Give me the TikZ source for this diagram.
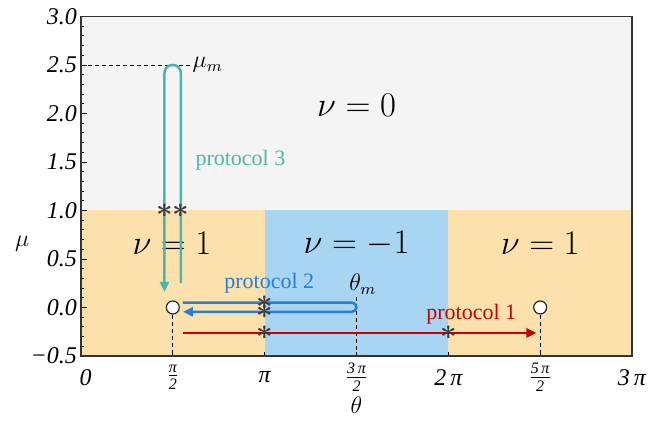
\documentclass[tikz,border=0pt]{standalone}
\usepackage{amsmath}
\usepackage{fontspec}
\setmainfont{Liberation Serif}
\usetikzlibrary{arrows.meta, positioning}
\definecolor{regiongray}{RGB}{244,244,244}
\definecolor{regionorange}{RGB}{253,225,172}
\definecolor{regionblue}{RGB}{168,213,241}
\definecolor{prototeal}{RGB}{77,182,170}
\definecolor{protoblue}{RGB}{40,125,215}
\definecolor{protored}{RGB}{200,0,0}
\definecolor{markgray}{RGB}{60,60,60}
\newcommand{\tickfrac}[2]{$\genfrac{}{}{0.4pt}{}{\mbox{\footnotesize\itshape #1}}{\mbox{\footnotesize\itshape #2}}$}

\begin{document}
\begin{tikzpicture}[x=45.92pt, y=48.5pt,
    phase/.style={font=\fontsize{17}{20}\selectfont},
    ticklbl/.style={font=\fontsize{12}{14}\selectfont\itshape, inner sep=1pt},
    axislbl/.style={font=\fontsize{13}{15}\selectfont},
    proto/.style={font=\fontsize{11}{13}\selectfont},
    marklbl/.style={font=\fontsize{12}{14}\selectfont, inner sep=1pt},
    starmark/.style={inner sep=0pt, text=markgray, font=\Large\boldmath},
    point/.style={circle, draw=black!85, fill=white, line width=0.6pt, minimum size=6.5pt, inner sep=0pt},
    guide/.style={dash pattern=on 2pt off 1.5pt, line width=0.4pt},
    arrow/.style={-{Triangle[length=5pt, width=4.5pt]}},
    loop3/.style={arrow, prototeal, line width=1.25pt, rounded corners=4pt},
    loop2/.style={arrow, protoblue, line width=1.25pt, rounded corners=2.3pt},
    line1/.style={arrow, protored, line width=1.4pt}
]
    \useasboundingbox (-0.882,-1.206) rectangle (6.196,3.170);

    % Phase regions
    \fill[regiongray] (0,1) rectangle (6,3);
    \fill[regionorange] (0,-0.5) rectangle (2,1);
    \fill[regionblue] (2,-0.5) rectangle (4,1);
    \fill[regionorange] (4,-0.5) rectangle (6,1);

    % Ticks
    \foreach \k in {-5,...,30}
        \draw[line width=0.4pt] (0,\k/10) -- ++(1.5pt,0);
    \foreach \k in {-1,...,6}
        \draw[line width=0.4pt] (0,\k/2) -- ++(3pt,0);
    \foreach \k in {1,...,5}
        \draw[line width=0.4pt] (\k,-0.5) -- ++(0,2pt);

    % Tick labels
    \foreach \k/\lbl in {-1/−0.5, 0/0.0, 1/0.5, 2/1.0, 3/1.5, 4/2.0, 5/2.5, 6/3.0}
        \node[ticklbl, anchor=east] (ylbl\k) at (-0.02,\k/2) {\lbl};
    \node[ticklbl] (xlbl0) at (0.05,-0.72) {0};
    \node[ticklbl] (xlbl1) at (1,-0.72) {\tickfrac{π}{2}};
    \node[ticklbl] (xlbl2) at (2,-0.72) {π};
    \node[ticklbl] (xlbl3) at (3,-0.72) {\tickfrac{3\,π}{2}};
    \node[ticklbl] (xlbl4) at (4,-0.72) {2\,π};
    \node[ticklbl] (xlbl5) at (5,-0.72) {\tickfrac{5\,π}{2}};
    \node[ticklbl] (xlbl6) at (6,-0.72) {3\,π};
    \node[axislbl] (ylabel) at (-0.64,0.66) {$\mu$};
    \node[axislbl] (xlabel) at (3,-1.01) {$\theta$};

    % Phase labels
    \node[phase] (nu0) at (3,2.08) {$\nu = 0$};
    \node[phase] (nu1l) at (0.99,0.66) {$\nu = 1$};
    \node[phase] (nuneg) at (3,0.66) {$\nu = -1$};
    \node[phase] (nu1r) at (5,0.66) {$\nu = 1$};

    % Points and helpers
    \coordinate (xaxis) at (0,-0.5);
    \coordinate (mum) at (0,2.5);
    \coordinate (thm) at (3,0);
    \coordinate (edge) at (0,1);
    \node[point] (pt1) at (1,0) {};
    \node[point] (pt5) at (5,0) {};
    \node[marklbl, anchor=west] (mumlbl) at (1.19,2.5) {$\mu_m$};
    \node[marklbl, anchor=south] (thmlbl) at (3.07,0.11) {$\theta_m$};

    % Guides
    \draw[guide] (mum) -- (mumlbl.west);
    \draw[guide] (pt1.south) -- (pt1 |- xaxis);
    \draw[guide] (pt5.south) -- (pt5 |- xaxis);
    \draw[guide] (thmlbl.south -| thm) -- (thm |- xaxis);

    % Protocol 3
    \coordinate (p3start) at (1.087,0.25);
    \coordinate (p3end) at (0.909,0.16);
    \draw[loop3] (p3start) -- (p3start |- mum) -- (p3end |- mum) -- (p3end);
    \node[proto, text=prototeal, anchor=west] (p3lbl) at (1.17,1.52) {protocol 3};

    % Protocol 2
    \coordinate (p2start) at (1.11,0.05);
    \coordinate (p2end) at (1.11,-0.045);
    \draw[loop2] (p2start) -- (thm |- p2start) -- (thm |- p2end) -- (p2end);
    \node[proto, text=protoblue] (p2lbl) at (2.05,0.25) {protocol 2};

    % Protocol 1
    \coordinate (p1start) at (1.11,-0.263);
    \coordinate (p1end) at (4.96,-0.263);
    \draw[line1] (p1start) -- (p1end);
    \node[proto, text=protored] (p1lbl) at (4.25,-0.07) {protocol 1};

    % Crossing marks
    \node[starmark] (s3a) at (p3start |- edge) {$\ast$};
    \node[starmark] (s3b) at (p3end |- edge) {$\ast$};
    \node[starmark] (s2a) at (2,0.05) {$\ast$};
    \node[starmark] (s2b) at (2,-0.045) {$\ast$};
    \node[starmark] (s1a) at (2,-0.263) {$\ast$};
    \node[starmark] (s1b) at (4,-0.263) {$\ast$};

    % Frame
    \draw[line width=0.8pt, black!80] (0,-0.5) rectangle (6,3);
\end{tikzpicture}
\end{document}
